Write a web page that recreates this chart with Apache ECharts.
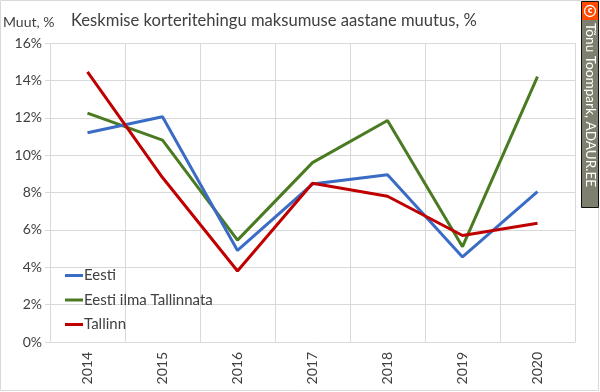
<!DOCTYPE html>
<html><head><meta charset="utf-8">
<script src="https://cdn.jsdelivr.net/npm/echarts@6/dist/echarts.min.js"></script>
<style>html,body{margin:0;padding:0;background:#fff}#c{width:600px;height:392px}</style>
</head><body><div id="c"></div>
<script>
const categories = ['2014','2015','2016','2017','2018','2019','2020'];
const eesti = [11.2, 12.05, 4.9, 8.45, 8.95, 4.55, 8.05];
const eestiIlmaTallinnata = [12.25, 10.8, 5.45, 9.6, 11.85, 5.1, 14.2];
const tallinn = [14.45, 8.8, 3.8, 8.5, 7.8, 5.7, 6.35];
const yTicks = [0, 2, 4, 6, 8, 10, 12, 14, 16];

const FONT = 'Lato';
const chart = echarts.init(document.getElementById('c'));
chart.setOption({
  animation: false,
  backgroundColor: '#fff',
  textStyle: { fontFamily: FONT },
  title: {
    text: 'Keskmise korteritehingu maksumuse aastane muutus, %',
    left: 66, top: 7,
    textStyle: { fontFamily: FONT, fontSize: 16.6, fontWeight: 'normal', color: '#404040' }
  },
  legend: {
    orient: 'vertical', left: 60, top: 263, itemGap: 9.5,
    icon: 'rect', itemWidth: 18, itemHeight: 3,
    textStyle: { fontFamily: FONT, fontSize: 15, color: '#404040', padding: [0,0,0,-4] },
    data: ['Eesti', 'Eesti ilma Tallinnata', 'Tallinn']
  },
  grid: { left: 50, right: 25, top: 43, bottom: 50 },
  xAxis: {
    type: 'category', data: categories, boundaryGap: true,
    axisLine: { show: true, lineStyle: { color: '#d9d9d9', width: 1 } },
    axisTick: { show: false },
    splitLine: { show: true, lineStyle: { color: '#d9d9d9', width: 1 } },
    axisLabel: { rotate: 90, fontFamily: FONT, fontSize: 14, color: '#404040', margin: 10 }
  },
  yAxis: {
    type: 'value', min: yTicks[0], max: yTicks[yTicks.length-1], interval: 2,
    name: 'Muut, %', nameLocation: 'end', nameGap: 14,
    nameTextStyle: { fontFamily: FONT, fontSize: 14, color: '#404040', align: 'left', padding: [0,0,0,-47] },
    axisLine: { show: false },
    axisTick: { show: true, length: 5, lineStyle: { color: '#d9d9d9' } },
    splitLine: { show: true, lineStyle: { color: '#d9d9d9', width: 1 } },
    axisLabel: { formatter: '{value}%', fontFamily: FONT, fontSize: 14, color: '#404040', margin: 8 }
  },
  series: [
    { name: 'Eesti', type: 'line', data: eesti, symbol: 'none', color: '#3a6cc6', lineStyle: { width: 3, color: '#3a6cc6' }, z: 3 },
    { name: 'Eesti ilma Tallinnata', type: 'line', data: eestiIlmaTallinnata, symbol: 'none', color: '#4a7a22', lineStyle: { width: 3, color: '#4a7a22' }, z: 2 },
    { name: 'Tallinn', type: 'line', data: tallinn, symbol: 'none', color: '#c00000', lineStyle: { width: 3, color: '#c00000' }, z: 4 }
  ],
  graphic: [
    { type: 'rect', shape: { x: 0.5, y: 0.5, width: 598, height: 390 }, style: { fill: 'none', stroke: '#d9d9d9', lineWidth: 1 }, silent: true, z: -1 },
    { type: 'rect', shape: { x: 581.5, y: 1.5, width: 17, height: 206 }, style: { fill: '#7f7f6f', stroke: '#111', lineWidth: 1 } },
    { type: 'rect', shape: { x: 582, y: 2, width: 16, height: 18 }, style: { fill: '#ff4a00' } },
    { type: 'circle', shape: { cx: 590, cy: 11, r: 5.5 }, style: { fill: 'none', stroke: '#fff', lineWidth: 1.3 } },
    { type: 'text', x: 590, y: 11, style: { text: 'c', font: 'bold 8px DejaVu Sans', fill: '#fff', align: 'center', verticalAlign: 'middle' } },
    { type: 'text', x: 590, y: 23, rotation: -Math.PI/2, style: { text: 'Tõnu Toompark, ADAUR.EE', font: '13.6px ' + FONT, fill: '#fff', align: 'left', verticalAlign: 'middle' } }
  ]
});
</script></body></html>
